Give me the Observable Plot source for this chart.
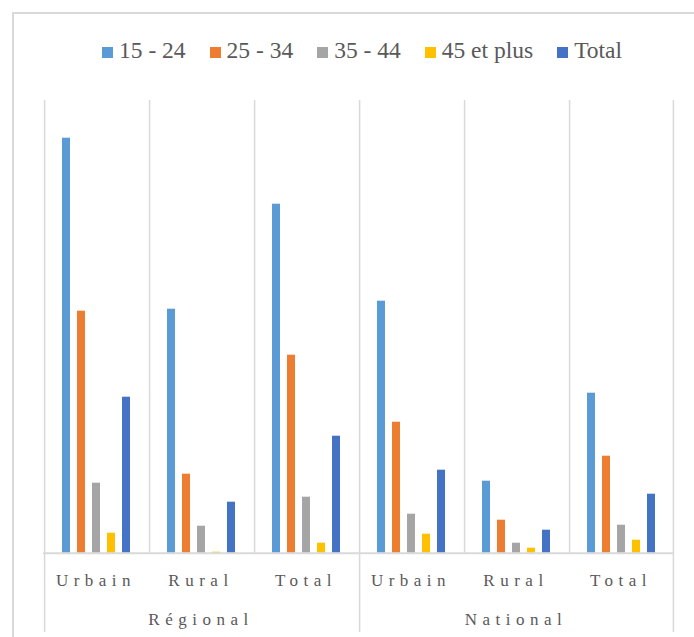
<!DOCTYPE html>
<html>
<head>
<meta charset="utf-8">
<script src="https://cdn.jsdelivr.net/npm/d3@7"></script>
<script src="https://cdn.jsdelivr.net/npm/@observablehq/plot@0.6"></script>
<style>
  html, body { margin: 0; padding: 0; background: #fff; overflow: hidden; }
  #wrap { position: relative; width: 694px; height: 637px; overflow: hidden; }
  #frame { position: absolute; left: 12px; top: 12px; width: 800px; height: 800px;
           border-left: 2px solid #d9d9d9; border-top: 2px solid #d9d9d9; }
  #legend { position: absolute; left: 102px; top: 34px; }
  #legend, #legend * { font-family: "Liberation Serif", "Times New Roman", serif !important; font-size: 23.5px !important; color: #595959 !important; }
  .lg-swatch { margin-right: 24px !important; }
  .lg-swatch > svg { margin-right: 6px !important; position: relative; top: 2px; }
  #chart { position: absolute; left: 0; top: 75px; }
  #chart svg, #chart svg text { font-family: "Liberation Serif", "Times New Roman", serif !important; }
  #chart svg text { letter-spacing: 5.5px; }
</style>
</head>
<body>
<div id="wrap">
  <div id="frame"></div>
  <div id="legend"></div>
  <div id="chart"></div>
</div>
<script>
// ---- data ----
const groups = ["Régional", "National"];
const categories = ["Urbain", "Rural", "Total"];
const ages = ["15 - 24", "25 - 34", "35 - 44", "45 et plus", "Total"];
// values per (group, category): Régional Urbain, Rural, Total, National Urbain, Rural, Total
const v15_24 = [41.5, 24.4, 34.9, 25.2, 7.2, 16.0];
const v25_34 = [24.2, 7.9, 19.8, 13.1, 3.3, 9.7];
const v35_44 = [7.0, 2.7, 5.6, 3.9, 1.0, 2.8];
const v45plus = [2.0, 0.1, 1.0, 1.9, 0.5, 1.3];
const vTotal = [15.6, 5.1, 11.7, 8.3, 2.3, 5.9];
const colors = ["#5B9BD5", "#ED7D31", "#A5A5A5", "#FFC000", "#4472C4"];

const series = [v15_24, v25_34, v35_44, v45plus, vTotal];
const keys = [];
groups.forEach(g => categories.forEach(c => keys.push(g + "|" + c)));
const rows = [];
keys.forEach((k, i) => ages.forEach((a, j) => rows.push({key: k, age: a, value: series[j][i]})));

// ---- layout ----
const W = 694, H = 562;
const ML = 43, MR = 20.7, MT = 25, MB = 84.3;
const yTop = 45.27;
const yBelow = -7.93;
const pIn = 0.477, pOut = 1.17;
const bandW = (W - ML - MR) / keys.length;
const step = bandW / (ages.length - pIn + 2 * pOut);
const edgeOff = step * pOut + step * (1 - pIn) / 2;
const grid = {stroke: "#d9d9d9", strokeWidth: 1.5};

const groupLabels = groups.map(g => ({key: g + "|Rural", label: g}));
const groupStarts = groups.map(g => g + "|" + categories[0]);

const chart = Plot.plot({
  width: W, height: H,
  marginLeft: ML, marginRight: MR, marginTop: MT, marginBottom: MB,
  style: {color: "#595959", background: "transparent"},
  fx: {domain: keys, padding: 0, label: null},
  x: {domain: ages, paddingInner: pIn, paddingOuter: pOut, axis: null},
  y: {domain: [0, yTop], axis: null},
  color: {domain: ages, range: colors},
  marks: [
    Plot.ruleX(keys, {fx: d => d, x: () => ages[0], dx: -edgeOff, y1: 0, y2: yTop, ...grid}),
    Plot.ruleX([keys[keys.length - 1]], {fx: d => d, x: () => ages[ages.length - 1], dx: edgeOff, y1: yBelow, y2: yTop, ...grid}),
    Plot.ruleX(groupStarts, {fx: d => d, x: () => ages[0], dx: -edgeOff, y1: yBelow, y2: 0, ...grid}),
    Plot.barY(rows, {fx: "key", x: "age", y: "value", fill: "age"}),
    Plot.ruleY([0], {stroke: "#d9d9d9", strokeWidth: 2}),
    Plot.axisFx({anchor: "bottom", tickSize: 0, tickPadding: 20.5, fontSize: 17, tickFormat: k => k.split("|")[1], label: null}),
    Plot.text(groupLabels, {fx: "key", text: "label", frameAnchor: "bottom", lineAnchor: "bottom", dy: 71.6, fontSize: 17, fill: "#595959"})
  ]
});
document.getElementById("chart").appendChild(chart);

const legend = Plot.legend({
  color: {domain: ages, range: colors},
  legend: "swatches",
  swatchSize: 11,
  className: "lg"
});
document.getElementById("legend").appendChild(legend);
</script>
</body>
</html>
